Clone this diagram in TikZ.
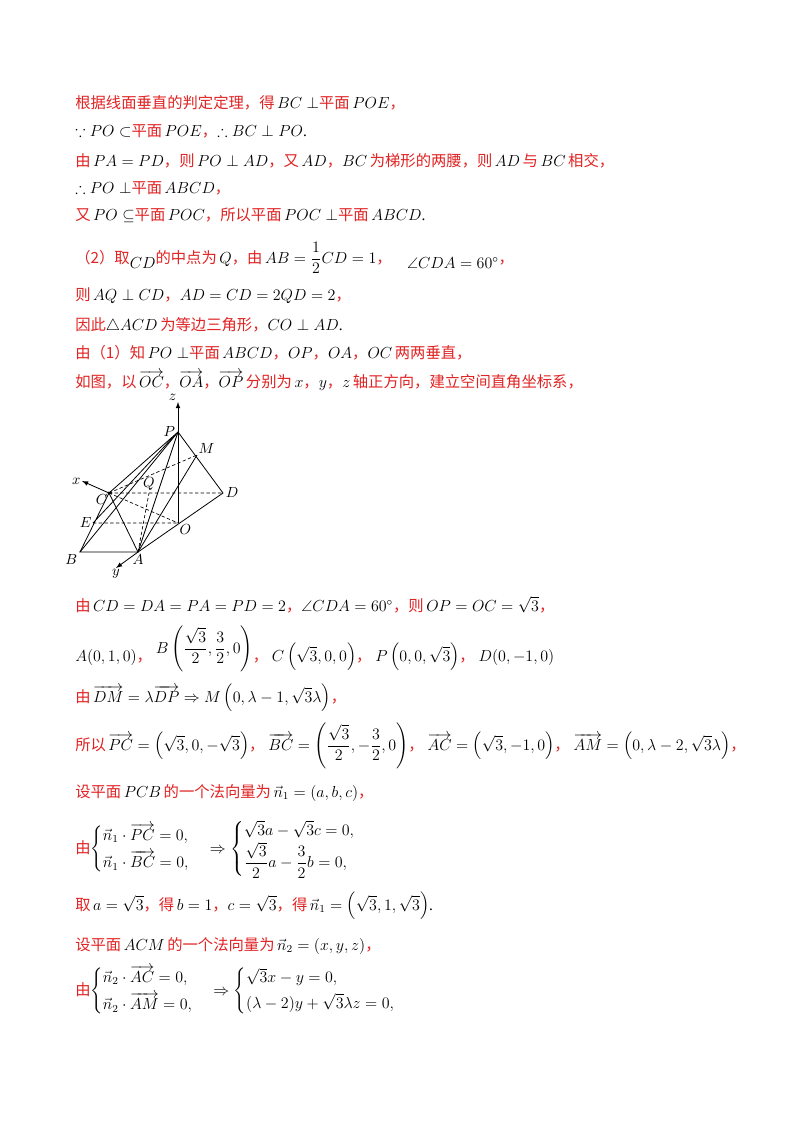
\documentclass[tikz,border=0pt]{standalone}
\usepackage{fontspec}
\usepackage{amsmath,amssymb}
\setmainfont{Liberation Serif}
\newfontfamily\cjk{Noto Sans CJK SC}
\definecolor{rtxt}{RGB}{225,35,35}
\newcommand{\R}[1]{\textcolor{rtxt}{\cjk #1}}
\begin{document}
\begin{tikzpicture}[x=0.75pt,y=-0.75pt,
  ln/.style={anchor=base west,inner sep=0pt,font=\fontsize{11.5}{14}\selectfont},
  lb/.style={inner sep=1pt,font=\itshape\fontsize{11}{13}\selectfont},
  sol/.style={line width=0.6pt},
  dsh/.style={line width=0.5pt,dash pattern=on 2.5pt off 1.8pt}]
\useasboundingbox[fill=white] (0,0) rectangle (800,1132);
\node[ln] (l1) at (75,108) {\R{根据线面垂直的判定定理，得}\,$BC\perp$\R{平面}\,$POE$\R{，}};
\node[ln] (l2) at (75,136) {$\because PO\subset$\R{平面}\,$POE$\R{，}$\therefore BC\perp PO$.};
\node[ln] (l3) at (75,166) {\R{由}\,$PA=PD$\R{，则}\,$PO\perp AD$\R{，又}\,$AD$\R{，}$BC$\,\R{为梯形的两腰，则}\,$AD$\,\R{与}\,$BC$\,\R{相交，}};
\node[ln] (l4) at (75,193) {$\therefore PO\perp$\R{平面}\,$ABCD$\R{，}};
\node[ln] (l5) at (75,220) {\R{又}\,$PO\subseteq$\R{平面}\,$POC$\R{，所以平面}\,$POC\perp$\R{平面}\,$ABCD$.};
\node[ln] (l6) at (75,263) {\R{（2）取}$\raisebox{-4pt}{$CD$}$\R{的中点为}\,$Q$\R{，由}\,$AB=\dfrac12 CD=1$\R{，}\quad$\raisebox{-4pt}{$\angle CDA=60^\circ$}$\R{，}};
\node[ln] (l7) at (75,300) {\R{则}\,$AQ\perp CD$\R{，}$AD=CD=2QD=2$\R{，}};
\node[ln] (l8) at (75,330) {\R{因此}$\triangle ACD$\,\R{为等边三角形，}$CO\perp AD$.};
\node[ln] (l9) at (75,358) {\R{由（1）知}\,$PO\perp$\R{平面}\,$ABCD$\R{，}$OP$\R{，}$OA$\R{，}$OC$\,\R{两两垂直，}};
\node[ln] (l10) at (75,387) {\R{如图，以}\,$\overrightarrow{OC}$\R{，}$\overrightarrow{OA}$\R{，}$\overrightarrow{OP}$\,\R{分别为}\,$x$\R{，}$y$\R{，}$z$\,\R{轴正方向，建立空间直角坐标系，}};
% figure
\coordinate (Z) at (178,402);
\coordinate (P) at (178,432);
\coordinate (M) at (197,455);
\coordinate (D) at (223,493);
\coordinate (O) at (178,523);
\coordinate (E) at (93,523);
\coordinate (C) at (109,493);
\coordinate (B) at (80,552);
\coordinate (A) at (138,552);
\coordinate (Q) at (149,493);
\coordinate (X) at (82,481);
\coordinate (Y) at (116,568);
\draw[sol,-latex] (O) -- (Z);
\draw[sol,-latex] (C) -- (X);
\draw[sol,-latex] (A) -- (Y);
\draw[sol] (P) -- (B) -- (A) -- (D) -- (P);
\draw[sol] (B) -- (C) -- (P) -- (E);
\draw[sol] (P) -- (A) -- (C);
\draw[sol] (A) -- (M);
\draw[dsh] (C) -- (D) (C) -- (M) (C) -- (O) (E) -- (O) (A) -- (Q);
\fill (C) circle (1.2pt);
\node[lb,above left=0pt] (zl) at (Z) {$z$};
\node[lb,left=1pt] (pl) at (P) {$P$};
\node[lb,above right=0pt] (ml) at (M) {$M$};
\node[lb,right=1pt] (dl) at (D) {$D$};
\node[lb,below right=0pt] (ol) at (O) {$O$};
\node[lb,left=0pt] (el) at (E) {$E$};
\node[lb,below left=0pt] (cl) at (C) {$C$};
\node[lb,below left=1pt] (bl) at (B) {$B$};
\node[lb,below=1pt] (al) at (A) {$A$};
\node[lb,above=1pt] (ql) at (Q) {$Q$};
\node[lb,left=0pt] (xl) at (X) {$x$};
\node[lb,below=0pt] (yl) at (Y) {$y$};
% after figure
\node[ln] (l11) at (75,611) {\R{由}\,$CD=DA=PA=PD=2$\R{，}$\angle CDA=60^\circ$\R{，则}\,$OP=OC=\sqrt3$\R{，}};
\node[ln] (l12) at (75,661) {$A(0,1,0)$\R{，}\ \raisebox{6pt}{$B\left(\dfrac{\sqrt3}{2},\dfrac32,0\right)$}\R{，}\ $C\left(\sqrt3,0,0\right)$\R{，}\ $P\left(0,0,\sqrt3\right)$\R{，}\ $D(0,-1,0)$};
\node[ln] (l13) at (75,702) {\R{由}\,$\overrightarrow{DM}=\lambda\overrightarrow{DP}\Rightarrow M\left(0,\lambda-1,\sqrt3\lambda\right)$\R{，}};
\node[ln] (l14) at (75,750) {\R{所以}\,$\overrightarrow{PC}=\left(\sqrt3,0,-\sqrt3\right)$\R{，}\ $\overrightarrow{BC}=\left(\dfrac{\sqrt3}{2},-\dfrac32,0\right)$\R{，}\ $\overrightarrow{AC}=\left(\sqrt3,-1,0\right)$\R{，}\ $\overrightarrow{AM}=\left(0,\lambda-2,\sqrt3\lambda\right)$\R{，}};
\node[ln] (l15) at (75,797) {\R{设平面}\,$PCB$\,\R{的一个法向量为}\,$\vec{n}_1=(a,b,c)$\R{，}};
\node[ln] (l16) at (75,853) {\R{由}$\begin{cases}\vec{n}_1\cdot\overrightarrow{PC}=0,\\[3pt] \vec{n}_1\cdot\overrightarrow{BC}=0,\end{cases}\Rightarrow\begin{cases}\sqrt3a-\sqrt3c=0,\\ \dfrac{\sqrt3}{2}a-\dfrac32b=0,\end{cases}$};
\node[ln] (l17) at (75,910) {\R{取}\,$a=\sqrt3$\R{，得}\,$b=1$\R{，}$c=\sqrt3$\R{，得}\,$\vec{n}_1=\left(\sqrt3,1,\sqrt3\right)$.};
\node[ln] (l18) at (75,950) {\R{设平面}\,$ACM$\,\R{的一个法向量为}\,$\vec{n}_2=(x,y,z)$\R{，}};
\node[ln] (l19) at (75,995) {\R{由}$\begin{cases}\vec{n}_2\cdot\overrightarrow{AC}=0,\\[3pt] \vec{n}_2\cdot\overrightarrow{AM}=0,\end{cases}\Rightarrow\begin{cases}\sqrt3x-y=0,\\[2pt] (\lambda-2)y+\sqrt3\lambda z=0,\end{cases}$};
\end{tikzpicture}
\end{document}
